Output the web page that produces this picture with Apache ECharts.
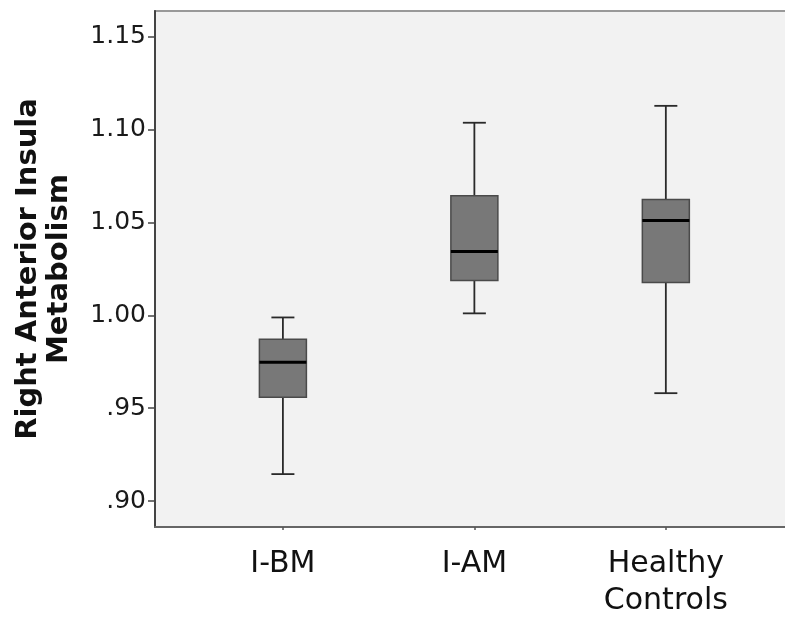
<!DOCTYPE html>
<html>
<head>
<meta charset="utf-8">
<script src="https://cdn.jsdelivr.net/npm/echarts@6/dist/echarts.min.js"></script>
<style>
  html, body { margin: 0; padding: 0; background: #fff; overflow: hidden; }
  /* a bit wider than the window so the plot frame runs off the right edge */
  #box { width: 800px; height: 620px; }
</style>
</head>
<body>
<div id="box"></div>
<script>
// groups and box statistics
const categories = ['I-BM', 'I-AM', 'Healthy\nControls'];
const whiskerLow = [0.9145, 1.0011, 0.9581];
const q1Values = [0.9559, 1.0188, 1.0177];
const medianValues = [0.9747, 1.0344, 1.0511];
const q3Values = [0.9871, 1.0645, 1.0624];
const whiskerHigh = [0.9989, 1.1038, 1.1129];
const yTicks = [0.90, 0.95, 1.00, 1.05, 1.10, 1.15];

document.addEventListener('DOMContentLoaded', function () {
    const chartDom = document.getElementById('box');
    const boxChart = echarts.init(chartDom);

    // one row per group: [x position, low, q1, median, q3, high]
    const boxData = categories.map(function (name, i) {
        return [i + 1, whiskerLow[i], q1Values[i], medianValues[i], q3Values[i], whiskerHigh[i]];
    });

    const labelFont = 'DejaVu Sans';

    const option = {
        animation: false,
        grid: {
            left: 155,
            right: 12,
            top: 11,
            bottom: 92,
            show: true,
            backgroundColor: '#f2f2f2',
            borderColor: '#999',
            borderWidth: 2
        },
        xAxis: {
            type: 'value',
            min: 0.332,
            max: 3.638,
            splitLine: { show: false },
            axisLine: { show: true, lineStyle: { color: '#666', width: 2 } },
            axisTick: {
                show: true,
                customValues: [1, 2, 3],
                length: 3,
                lineStyle: { color: '#555', width: 1.5 }
            },
            axisLabel: {
                customValues: [1, 2, 3],
                formatter: function (v) { return categories[Math.round(v) - 1]; },
                fontFamily: labelFont,
                fontSize: 30,
                lineHeight: 37,
                color: '#111',
                margin: 19
            }
        },
        yAxis: {
            type: 'value',
            min: 0.886,
            max: 1.164,
            name: 'Right Anterior Insula\nMetabolism',
            nameLocation: 'middle',
            nameRotate: 90,
            nameGap: 80,
            nameTextStyle: {
                fontFamily: labelFont,
                fontWeight: 'bold',
                fontSize: 29,
                lineHeight: 31,
                color: '#111'
            },
            splitLine: { show: false },
            axisLine: { show: true, lineStyle: { color: '#444', width: 2 } },
            axisTick: {
                show: true,
                customValues: yTicks,
                length: 7,
                lineStyle: { color: '#444', width: 1.5 }
            },
            axisLabel: {
                customValues: yTicks,
                formatter: function (v) {
                    const s = v.toFixed(2);
                    return v < 1 ? s.replace(/^0/, '') : s;
                },
                fontFamily: labelFont,
                fontSize: 25,
                color: '#1a1a1a',
                margin: 9
            }
        },
        series: [
            {
                type: 'custom',
                data: boxData,
                encode: { x: 0, y: [1, 2, 3, 4, 5] },
                renderItem: function (params, api) {
                    const x = api.value(0);
                    const lo = api.coord([x, api.value(1)]);
                    const b1 = api.coord([x, api.value(2)]);
                    const md = api.coord([x, api.value(3)]);
                    const b3 = api.coord([x, api.value(4)]);
                    const hi = api.coord([x, api.value(5)]);
                    const cx = lo[0];
                    const half = 23.5;   // half box width
                    const cap = 11.5;    // half whisker cap
                    const whisker = { stroke: '#2a2a2a', lineWidth: 1.8 };
                    return {
                        type: 'group',
                        children: [
                            { type: 'line', shape: { x1: cx, y1: hi[1], x2: cx, y2: b3[1] }, style: whisker },
                            { type: 'line', shape: { x1: cx, y1: b1[1], x2: cx, y2: lo[1] }, style: whisker },
                            { type: 'line', shape: { x1: cx - cap, y1: hi[1], x2: cx + cap, y2: hi[1] }, style: whisker },
                            { type: 'line', shape: { x1: cx - cap, y1: lo[1], x2: cx + cap, y2: lo[1] }, style: whisker },
                            {
                                type: 'rect',
                                shape: { x: cx - half, y: b3[1], width: half * 2, height: b1[1] - b3[1] },
                                style: { fill: '#787878', stroke: '#4a4a4a', lineWidth: 1.5 }
                            },
                            {
                                type: 'line',
                                shape: { x1: cx - half, y1: md[1], x2: cx + half, y2: md[1] },
                                style: { stroke: '#000', lineWidth: 3 }
                            }
                        ]
                    };
                }
            }
        ]
    };
    boxChart.setOption(option);
});
</script>
</body>
</html>
